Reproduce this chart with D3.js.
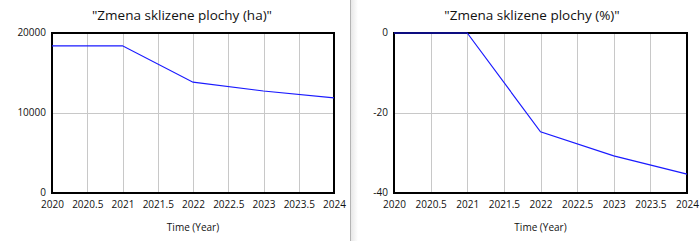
<!DOCTYPE html>
<html>
<head>
<meta charset="utf-8">
<script src="https://cdn.jsdelivr.net/npm/d3@7"></script>
<style>
body { margin: 0; background: #fff; }
text { font-family: "Open Sans", sans-serif; fill: #111; }
</style>
</head>
<body>
<script>
var width = 700
var height = 241

// data
var years = [2020, 2021, 2022, 2023, 2024]
var areaHa = [18400, 18400, 13850, 12750, 11900]
var areaPct = [0, 0, -24.7, -30.7, -35.3]
var xTicks = [2020, 2020.5, 2021, 2021.5, 2022, 2022.5, 2023, 2023.5, 2024]

var svg = d3.select("body")
    .append("svg")
        .attr("width", width)
        .attr("height", height)

// panel divider with a soft shadow on the right
var grad = svg.append("defs").append("linearGradient")
    .attr("id", "shade")
grad.append("stop").attr("offset", "0%").attr("stop-color", "#e4e4e4")
grad.append("stop").attr("offset", "100%").attr("stop-color", "#fff")
svg.append("rect")
    .attr("x", 350).attr("y", 0).attr("width", 8).attr("height", height)
    .attr("fill", "url(#shade)")
svg.append("line")
    .attr("x1", 350.5).attr("x2", 350.5).attr("y1", 0).attr("y2", height)
    .attr("stroke", "#b4b4b4")

function chart(opt) {
    var g = svg.append("g")

    var x = d3.scaleLinear().domain([2020, 2024]).range([opt.left, opt.right])
    var y = d3.scaleLinear().domain(opt.domain).range([193, 33])

    // grid
    g.selectAll("vgrid")
        .data(xTicks.slice(1, -1))
        .enter()
        .append("line")
            .attr("x1", function(d) { return Math.round(x(d)) + 0.5 })
            .attr("x2", function(d) { return Math.round(x(d)) + 0.5 })
            .attr("y1", y.range()[1])
            .attr("y2", y.range()[0])
            .attr("stroke", "#c8c8c8")
    g.selectAll("hgrid")
        .data([opt.ticks[1]])
        .enter()
        .append("line")
            .attr("x1", opt.left)
            .attr("x2", opt.right)
            .attr("y1", function(d) { return Math.round(y(d)) + 0.5 })
            .attr("y2", function(d) { return Math.round(y(d)) + 0.5 })
            .attr("stroke", "#c8c8c8")

    // frame
    g.append("rect")
        .attr("x", opt.left)
        .attr("y", y.range()[1])
        .attr("width", opt.right - opt.left)
        .attr("height", y.range()[0] - y.range()[1])
        .attr("fill", "none")
        .attr("stroke", "#000")
        .attr("stroke-width", 2)

    // series (on top of the frame, as in the original)
    var line = d3.line()
        .x(function(d, i) { return x(years[i]) })
        .y(function(d) { return y(d) })
    g.append("path")
        .datum(opt.values)
        .attr("d", line)
        .attr("fill", "none")
        .attr("stroke", "#1a1aff")
        .attr("stroke-width", 1.2)

    // axes
    var xAxis = g.append("g")
        .attr("transform", "translate(0,193)")
        .call(d3.axisBottom(x).tickValues(xTicks).tickSize(0).tickPadding(8)
            .tickFormat(function(d) { return d }))
    xAxis.select(".domain").remove()
    xAxis.selectAll("text").style("font-size", "10px").attr("fill", "#111")

    var yAxis = g.append("g")
        .attr("transform", "translate(" + opt.left + ",0)")
        .call(d3.axisLeft(y).tickValues(opt.ticks).tickSize(0).tickPadding(opt.pad)
            .tickFormat(function(d) { return d }))
    yAxis.select(".domain").remove()
    yAxis.selectAll("text").style("font-size", "10px").attr("fill", "#111")
        .attr("dy", "0.2em")

    g.append("text")
        .attr("x", opt.titleX)
        .attr("y", 20)
        .attr("text-anchor", "middle")
        .style("font-size", "13.5px")
        .text(opt.title)

    g.append("text")
        .attr("x", (opt.left + opt.right) / 2)
        .attr("y", 231)
        .attr("text-anchor", "middle")
        .style("font-size", "10px")
        .text("Time (Year)")
}

chart({
    left: 52, right: 334, domain: [0, 20000], ticks: [0, 10000, 20000],
    values: areaHa, title: "\"Zmena sklizene plochy (ha)\"", titleX: 182, pad: 6
})
chart({
    left: 394, right: 687, domain: [-40, 0], ticks: [-40, -20, 0],
    values: areaPct, title: "\"Zmena sklizene plochy (%)\"", titleX: 532, pad: 6
})
</script>
</body>
</html>
